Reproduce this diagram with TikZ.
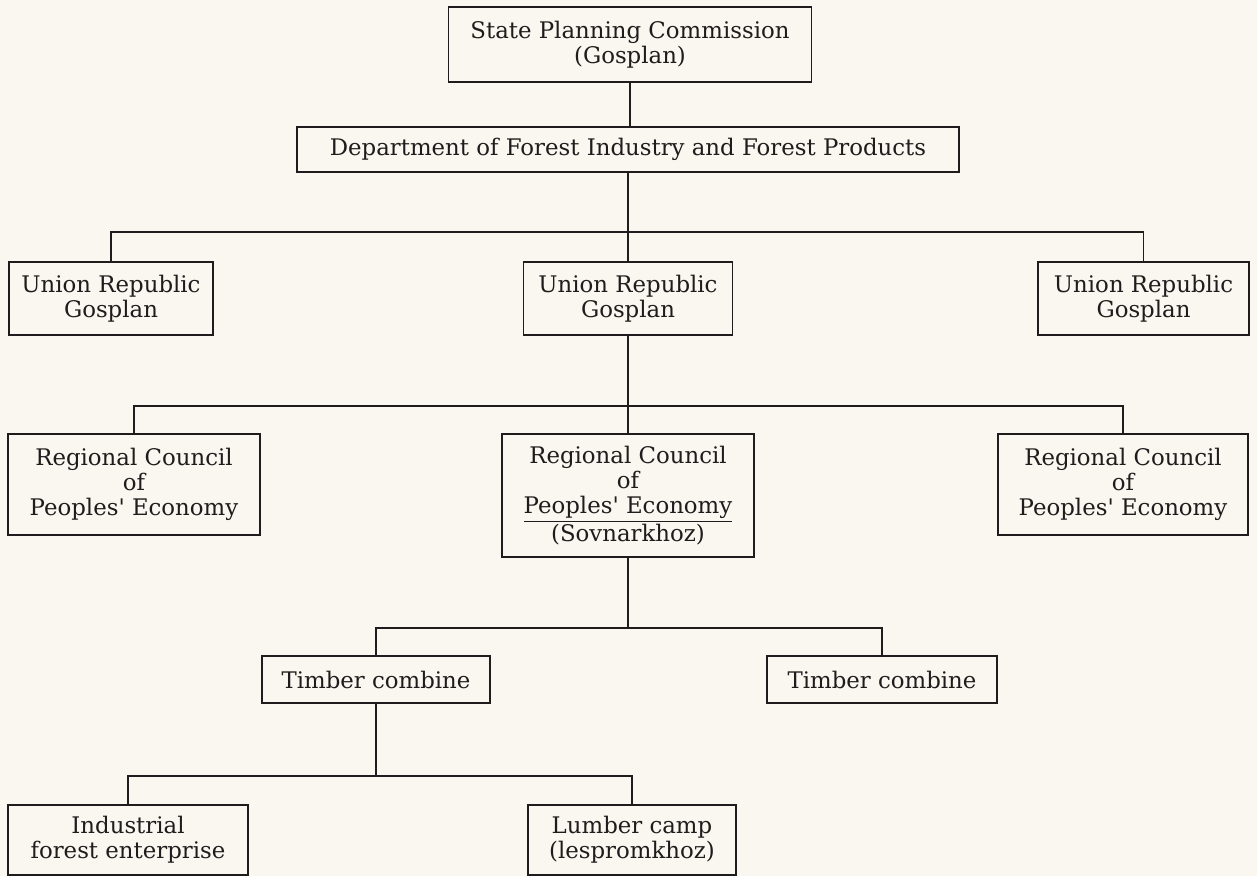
\documentclass[tikz,border=0pt]{standalone}
\usepackage{fontspec}
\setmainfont{DejaVu Serif}
\usepackage{xcolor}
\usetikzlibrary{positioning, calc}
\definecolor{paper}{HTML}{FAF7F0}
\definecolor{ink}{HTML}{1E1C1C}

\begin{document}
\begin{tikzpicture}[
    unit/.style 2 args={draw=ink, text=ink, line width=1.1pt, minimum width=#1, minimum height=#2, align=center, inner sep=2pt, font=\fontsize{13}{14.2}\selectfont},
    link/.style={draw=ink, line width=0.6pt},
]
    \fill[paper] (0,0) rectangle (25.14,17.52);
    \useasboundingbox (0,0) rectangle (25.14,17.52);

    % top of the chart
    \node[unit={7.26cm}{1.50cm}] (spc) at (12.60, 16.63) {State Planning Commission\\(Gosplan)};
    \node[unit={13.24cm}{0.90cm}] (dept) at (12.56, 14.53) {Department of Forest Industry and Forest Products};

    % republics
    \node[unit={4.08cm}{1.46cm}] (ug1) at (2.22, 11.55) {Union Republic\\Gosplan};
    \node[unit={4.18cm}{1.46cm}] (ug2) at (12.56, 11.55) {Union Republic\\Gosplan};
    \node[unit={4.22cm}{1.46cm}] (ug3) at (22.87, 11.55) {Union Republic\\Gosplan};

    % regional councils
    \node[unit={5.04cm}{2.02cm}] (rc1) at (2.68, 7.83) {Regional Council\\of\\Peoples\textquotesingle{} Economy};
    \node[unit={5.04cm}{2.46cm}] (rc2) at (12.56, 7.61) {Regional Council\\of\\\underline{Peoples\textquotesingle{} Economy}\\(Sovnarkhoz)};
    \node[unit={5.00cm}{2.02cm}] (rc3) at (22.46, 7.83) {Regional Council\\of\\Peoples\textquotesingle{} Economy};

    % combines and below
    \node[unit={4.56cm}{0.94cm}] (tc1) at (7.52, 3.93) {Timber combine};
    \node[unit={4.60cm}{0.94cm}] (tc2) at (17.64, 3.93) {Timber combine};
    \node[unit={4.80cm}{1.40cm}] (ife) at (2.56, 0.72) {Industrial\\forest enterprise};
    \node[unit={4.16cm}{1.40cm}] (lc) at (12.64, 0.72) {Lumber camp\\(lespromkhoz)};

    % bus lines
    \coordinate (bus1) at (12.56, 12.88);
    \coordinate (bus2) at (12.56, 9.40);
    \coordinate (bus3) at (12.56, 4.96);
    \coordinate (bus4) at (7.52, 2.00);

    \draw[link] (spc.south) -- (spc.south |- dept.north);
    \draw[link] (dept.south) -- (ug2.north);
    \draw[link] (ug1.north) |- (bus1) -| (ug3.north);
    \draw[link] (ug2.south) -- (rc2.north);
    \draw[link] (rc1.north) |- (bus2) -| (rc3.north);
    \draw[link] (rc2.south) -- (bus3);
    \draw[link] (tc1.north) |- (bus3) -| (tc2.north);
    \draw[link] (tc1.south) -- (bus4);
    \draw[link] (ife.north) |- (bus4) -| (lc.north);
\end{tikzpicture}
\end{document}
